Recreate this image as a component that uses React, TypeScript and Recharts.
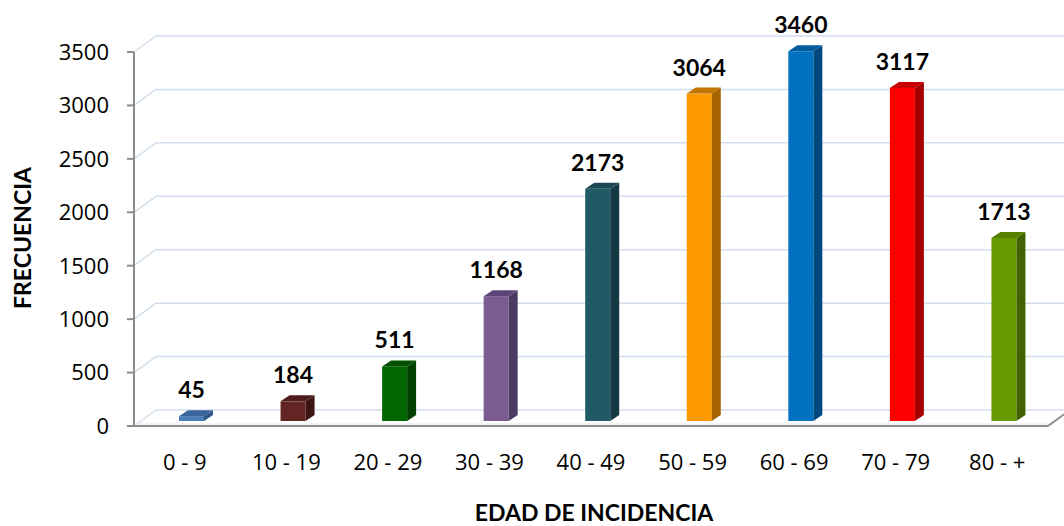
import { BarChart, Bar, XAxis, YAxis, CartesianGrid, ReferenceLine, Cell, LabelList } from "recharts";

const CATEGORIES = ["0 - 9", "10 - 19", "20 - 29", "30 - 39", "40 - 49", "50 - 59", "60 - 69", "70 - 79", "80 - +"];
const FRECUENCIA = [45, 184, 511, 1168, 2173, 3064, 3460, 3117, 1713];
const Y_TICKS = [0, 500, 1000, 1500, 2000, 2500, 3000, 3500];

const FRONT = ["#4a7ebb", "#632523", "#006600", "#7a5c93", "#215a67", "#ff9900", "#0070c0", "#ff0000", "#669900"];
const SIDE = ["#2f5585", "#3d1614", "#004000", "#4b3a62", "#163a43", "#a66300", "#004a80", "#a60000", "#426300"];
const TOP = ["#3a659b", "#4e1c1a", "#005000", "#5d4677", "#1b4853", "#c47400", "#005c9e", "#c80000", "#558000"];

const data = CATEGORIES.map((edad, i) => ({ edad, frecuencia: FRECUENCIA[i] }));

const FONT = "'Open Sans', Lato, sans-serif";
const BOLD_FONT = "Lato, 'Open Sans', sans-serif";

// depth of the back wall and of each bar
const WALL_DX = 22;
const WALL_DY = 16;
const BAR_OX = 7;
const BAR_OY = 5;
const BAR_DX = 9;
const BAR_DY = 6;

const gridLine = (props: any) => {
  const { x1, y1, x2, key } = props;
  const bx = x1 + WALL_DX;
  const by = y1 - WALL_DY;
  return (
    <g key={key}>
      <line x1={x1} y1={y1} x2={bx} y2={by} stroke="#d3deec" strokeWidth={1.5} />
      <line x1={bx} y1={by} x2={x2 + WALL_DX} y2={by} stroke="#d3deec" strokeWidth={1.5} />
    </g>
  );
};

const floorShape = (props: any) => {
  const { x1, y1, x2 } = props;
  return (
    <g>
      <line x1={x1} y1={y1 - 2} x2={x2} y2={y1 - 2} stroke="#e4e8ee" strokeWidth={1} />
      <line x1={x1} y1={y1} x2={x2} y2={y1} stroke="#8c8c8c" strokeWidth={2} />
      <line x1={x2} y1={y1} x2={x2 + WALL_DX} y2={y1 - WALL_DY} stroke="#8c8c8c" strokeWidth={2} />
    </g>
  );
};

const Bar3D = (props: any) => {
  const { x, y, width, height, index } = props;
  const fx = x + BAR_OX;
  const fy = y - BAR_OY;
  const r = fx + width;
  const b = fy + height;
  return (
    <g>
      <rect x={fx} y={fy} width={width} height={height} fill={FRONT[index]} />
      <polygon
        points={`${r},${fy} ${r + BAR_DX},${fy - BAR_DY} ${r + BAR_DX},${b - BAR_DY} ${r},${b}`}
        fill={SIDE[index]}
      />
      <polygon
        points={`${fx},${fy} ${fx + BAR_DX},${fy - BAR_DY} ${r + BAR_DX},${fy - BAR_DY} ${r},${fy}`}
        fill={TOP[index]}
      />
    </g>
  );
};

const valueLabel = (props: any) => {
  const { x, y, width, value } = props;
  return (
    <text
      x={x + width / 2 + BAR_OX}
      y={y - BAR_OY - 27}
      textAnchor="middle"
      dominantBaseline="central"
      fontFamily={BOLD_FONT}
      fontWeight={700}
      fontSize={23}
      fill="#000"
    >
      {value}
    </text>
  );
};

const xTick = (props: any) => {
  const { x, y, payload } = props;
  return (
    <text x={x} y={y + 35} textAnchor="middle" dominantBaseline="central" fontFamily={FONT} fontSize={22} fill="#000">
      {payload.value}
    </text>
  );
};

const App = () => {
  return (
    <div style={{ position: "absolute", left: 0, top: 0, width: 1064, height: 526, background: "#fff" }}>
      <BarChart width={1064} height={526} data={data} margin={{ top: 52, right: 16, bottom: 70, left: 54 }}>
        <CartesianGrid vertical={false} horizontal={gridLine} />
        <XAxis dataKey="edad" axisLine={false} tickLine={false} tickSize={0} tickMargin={0} height={30} tick={xTick} interval={0} />
        <YAxis
          width={80}
          domain={[0, 3500]}
          ticks={Y_TICKS}
          interval={0}
          axisLine={{ stroke: "#8c8c8c", strokeWidth: 2 }}
          tickLine={{ stroke: "#8c8c8c", strokeWidth: 2 }}
          tickSize={7}
          tickMargin={18}
          tick={{ fill: "#000", fontSize: 22, fontFamily: FONT }}
        />
        <ReferenceLine y={0} shape={floorShape} />
        <Bar dataKey="frecuencia" barSize={25} shape={Bar3D} isAnimationActive={false}>
          {data.map((_, i) => (
            <Cell key={i} fill={FRONT[i]} />
          ))}
          <LabelList dataKey="frecuencia" content={valueLabel} />
        </Bar>
      </BarChart>
      <div
        style={{
          position: "absolute",
          left: 22,
          top: 238,
          transform: "translate(-50%, -50%) rotate(-90deg)",
          fontFamily: BOLD_FONT,
          fontWeight: 700,
          fontSize: 23,
          lineHeight: 1,
          whiteSpace: "nowrap",
          color: "#000",
        }}
      >
        FRECUENCIA
      </div>
      <div
        style={{
          position: "absolute",
          left: 594,
          top: 512,
          transform: "translate(-50%, -50%)",
          fontFamily: BOLD_FONT,
          fontWeight: 700,
          fontSize: 23,
          lineHeight: 1,
          whiteSpace: "nowrap",
          color: "#000",
        }}
      >
        EDAD DE INCIDENCIA
      </div>
    </div>
  );
};

export default App;
